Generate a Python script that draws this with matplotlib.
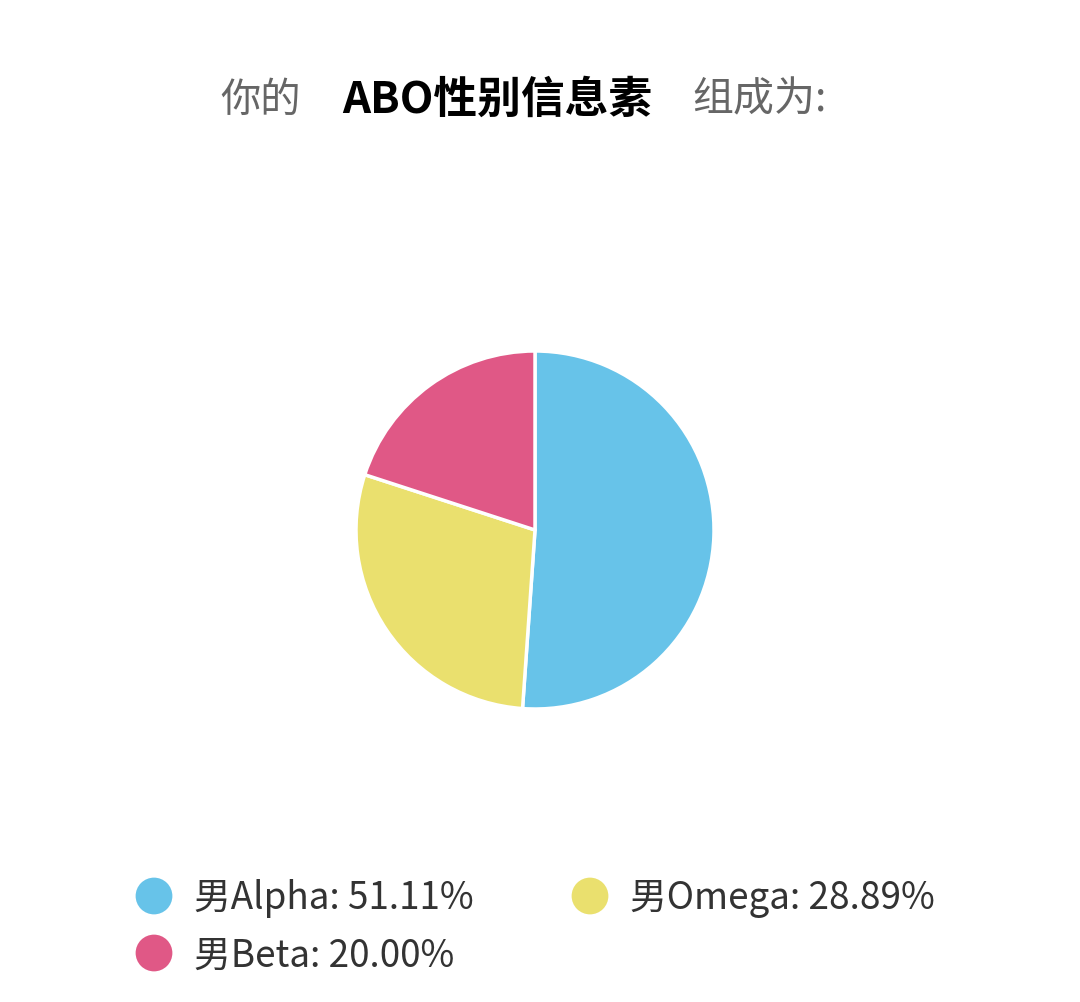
import numpy as np
import matplotlib.pyplot as plt

plt.rcParams['font.family'] = ['Noto Sans CJK SC', 'DejaVu Sans']

# data
labels = ["男Alpha", "男Omega", "男Beta"]
values = [51.11, 28.89, 20.00]
colors = ["#67C3E9", "#EAE06E", "#E05886"]

W, H = 1080, 1002
fig = plt.figure(figsize=(W / 100, H / 100), dpi=100)
fig.patch.set_facecolor("white")

# title, three pieces
fig.text(301 / W, 1 - 100 / H, "你的", ha="right", va="center",
         fontsize=29, color="#666666")
fig.text(497 / W, 1 - 100 / H, "ABO性别信息素", ha="center", va="center",
         fontsize=31.5, color="black", fontweight="bold")
fig.text(692 / W, 1 - 100 / H, "组成为:", ha="left", va="center",
         fontsize=29.5, color="#666666")

# pie
cx, cy, r = 535, 530, 179
ax = fig.add_axes([(cx - r) / W, 1 - (cy + r) / H, 2 * r / W, 2 * r / H])
ax.pie(values, colors=colors, startangle=90, counterclock=False,
       wedgeprops=dict(edgecolor="white", linewidth=2.5, joinstyle="round"))
ax.set_xlim(-1.0, 1.0)
ax.set_ylim(-1.0, 1.0)
ax.set_aspect("equal")
ax.axis("off")

# legend (2 columns, row-wise)
lax = fig.add_axes([0, 0, 1, 1])
lax.set_xlim(0, W)
lax.set_ylim(H, 0)
lax.axis("off")
col_x = [154, 590]
row_y = [896, 953]
for i, (lab, v, c) in enumerate(zip(labels, values, colors)):
    x = col_x[i % 2]
    y = row_y[i // 2]
    lax.scatter([x], [y], s=700, color=c, edgecolors="none")
    lax.text(x + 40, y + 3, f"{lab}: {v:.2f}%", ha="left", va="center",
             fontsize=26.5, color="#333333")

fig.savefig("out.png", dpi=100)
